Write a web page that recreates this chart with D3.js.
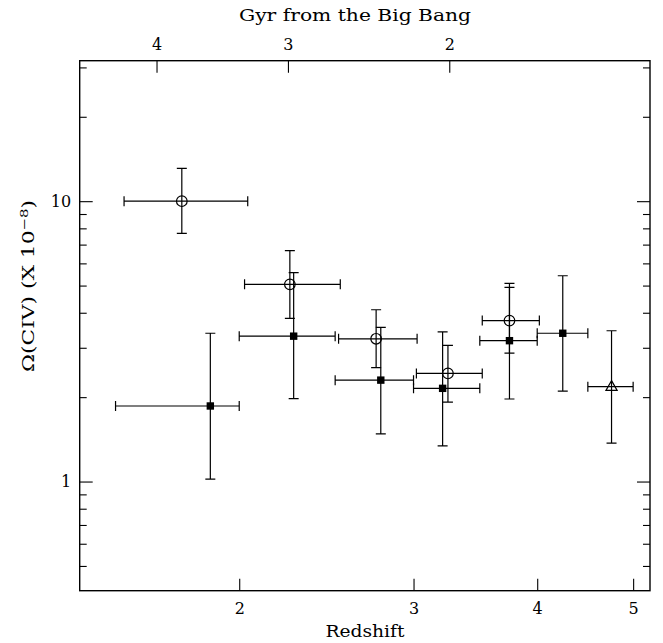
<!DOCTYPE html>
<html>
<head>
<meta charset="utf-8">
<script src="https://cdn.jsdelivr.net/npm/d3@7"></script>
<style>
  body { margin: 0; background: #fff; }
  text { font-family: "DejaVu Serif", "Liberation Serif", serif; fill: #000; }
</style>
</head>
<body>
<div id="chart"></div>
<script>
// redshift ticks (bottom) and Gyr ticks (top, placed at the redshift they sit on)
const xTicks = [2, 3, 4, 5];
const gyrLabels = ["4", "3", "2"];
const gyrTickZ = [1.65, 2.24, 3.26];
const yMajor = [1, 10];
const yMinor = [0.5, 0.6, 0.7, 0.8, 0.9, 2, 3, 4, 5, 6, 7, 8, 9, 20, 30];

// [z, zLow, zHigh, omega, omegaLow, omegaHigh]
const openCircles = [
    [1.75, 1.53, 2.04, 10.0, 7.68, 13.1],
    [2.25, 2.025, 2.53, 5.05, 3.82, 6.66],
    [2.75, 2.52, 3.025, 3.23, 2.55, 4.10],
    [3.25, 3.02, 3.52, 2.43, 1.92, 3.06],
    [3.75, 3.52, 4.02, 3.75, 2.87, 5.09]
];
const filledSquares = [
    [1.87, 1.50, 2.00, 1.86, 1.02, 3.38],
    [2.27, 2.00, 2.50, 3.30, 1.975, 5.56],
    [2.78, 2.50, 3.00, 2.30, 1.48, 3.55],
    [3.21, 3.00, 3.50, 2.15, 1.34, 3.42],
    [3.75, 3.50, 4.00, 3.18, 1.97, 4.93],
    [4.245, 4.00, 4.50, 3.38, 2.10, 5.42]
];
const openTriangles = [
    [4.755, 4.50, 5.00, 2.18, 1.37, 3.45]
];

const width = 663, height = 643;
const margin = { top: 60.7, right: 13, bottom: 52.3, left: 79.7 };

const svg = d3.select("#chart").append("svg")
    .attr("width", width)
    .attr("height", height);

const x = d3.scaleLog()
    .domain([1.38, 5.2])
    .range([margin.left, width - margin.right]);

const y = d3.scaleLog()
    .domain([0.408, 31.7])
    .range([height - margin.bottom, margin.top]);

const x0 = margin.left, x1 = width - margin.right;
const y0 = height - margin.bottom, y1 = margin.top;

function styleAxis(g) {
    g.select(".domain").remove();
    g.selectAll(".tick line").attr("stroke", "#000").attr("stroke-width", 1.1);
    g.selectAll(".tick text")
        .style("font-family", "DejaVu Serif, serif")
        .style("font-size", "16px")
        .attr("fill", "#000");
}

// bottom axis
svg.append("g")
    .attr("transform", `translate(0,${y0})`)
    .call(d3.axisBottom(x).tickValues(xTicks).tickFormat(d3.format("d"))
        .tickSize(-12).tickPadding(12))
    .call(styleAxis);

// top axis: Gyr from the Big Bang
svg.append("g")
    .attr("transform", `translate(0,${y1})`)
    .call(d3.axisTop(x).tickValues(gyrTickZ).tickFormat((d, i) => gyrLabels[i])
        .tickSize(-12).tickPadding(10.7))
    .call(styleAxis);

// left axis
svg.append("g")
    .attr("transform", `translate(${x0},0)`)
    .call(d3.axisLeft(y).tickValues(yMajor).tickFormat(d3.format("d"))
        .tickSize(-13).tickPadding(8.5))
    .call(styleAxis);
svg.append("g")
    .attr("transform", `translate(${x0},0)`)
    .call(d3.axisLeft(y).tickValues(yMinor).tickFormat("").tickSize(-7))
    .call(styleAxis);

// right axis
svg.append("g")
    .attr("transform", `translate(${x1},0)`)
    .call(d3.axisRight(y).tickValues(yMajor).tickFormat("").tickSize(-13))
    .call(styleAxis);
svg.append("g")
    .attr("transform", `translate(${x1},0)`)
    .call(d3.axisRight(y).tickValues(yMinor).tickFormat("").tickSize(-7))
    .call(styleAxis);

// frame
svg.append("rect")
    .attr("x", x0).attr("y", y1)
    .attr("width", x1 - x0).attr("height", y0 - y1)
    .attr("fill", "none")
    .attr("stroke", "#000")
    .attr("stroke-width", 1.4);

// error bars
const cap = 5;
const allPoints = openCircles.concat(filledSquares, openTriangles);
const bars = svg.append("g")
    .attr("stroke", "#000")
    .attr("stroke-width", 1.2)
    .attr("fill", "none");

allPoints.forEach(d => {
    const cx = x(d[0]), cy = y(d[3]);
    const xl = x(d[1]), xh = x(d[2]);
    const yl = y(d[4]), yh = y(d[5]);
    const p = d3.path();
    p.moveTo(xl, cy); p.lineTo(xh, cy);
    p.moveTo(xl, cy - cap); p.lineTo(xl, cy + cap);
    p.moveTo(xh, cy - cap); p.lineTo(xh, cy + cap);
    p.moveTo(cx, yl); p.lineTo(cx, yh);
    p.moveTo(cx - cap, yl); p.lineTo(cx + cap, yl);
    p.moveTo(cx - cap, yh); p.lineTo(cx + cap, yh);
    bars.append("path").attr("d", p.toString());
});

// markers
svg.append("g").selectAll("circle")
    .data(openCircles)
    .join("circle")
    .attr("cx", d => x(d[0]))
    .attr("cy", d => y(d[3]))
    .attr("r", 5.3)
    .attr("fill", "none")
    .attr("stroke", "#000")
    .attr("stroke-width", 1.2);

const sq = 7.4;
svg.append("g").selectAll("rect")
    .data(filledSquares)
    .join("rect")
    .attr("x", d => x(d[0]) - sq / 2)
    .attr("y", d => y(d[3]) - sq / 2)
    .attr("width", sq)
    .attr("height", sq)
    .attr("fill", "#000");

svg.append("g").selectAll("path")
    .data(openTriangles)
    .join("path")
    .attr("transform", d => `translate(${x(d[0])},${y(d[3])})`)
    .attr("d", "M0,-6 L5.6,3.8 L-5.6,3.8 Z")
    .attr("fill", "none")
    .attr("stroke", "#000")
    .attr("stroke-width", 1.2);

// axis titles
svg.append("text")
    .attr("x", 355).attr("y", 21)
    .attr("text-anchor", "middle")
    .attr("textLength", 232)
    .attr("lengthAdjust", "spacingAndGlyphs")
    .style("font-size", "16px")
    .text("Gyr from the Big Bang");

svg.append("text")
    .attr("x", 365).attr("y", 637)
    .attr("text-anchor", "middle")
    .attr("textLength", 79)
    .attr("lengthAdjust", "spacingAndGlyphs")
    .style("font-size", "16px")
    .text("Redshift");

const ylab = svg.append("text")
    .attr("transform", "translate(34,286) rotate(-90)")
    .attr("text-anchor", "middle")
    .attr("textLength", 172)
    .attr("lengthAdjust", "spacingAndGlyphs")
    .style("font-size", "16px");
ylab.append("tspan").text("\u03A9(CIV)  (X 10");
ylab.append("tspan").attr("dy", -6).style("font-size", "11px").text("\u22128");
ylab.append("tspan").attr("dy", 6).text(")");
</script>
</body>
</html>
